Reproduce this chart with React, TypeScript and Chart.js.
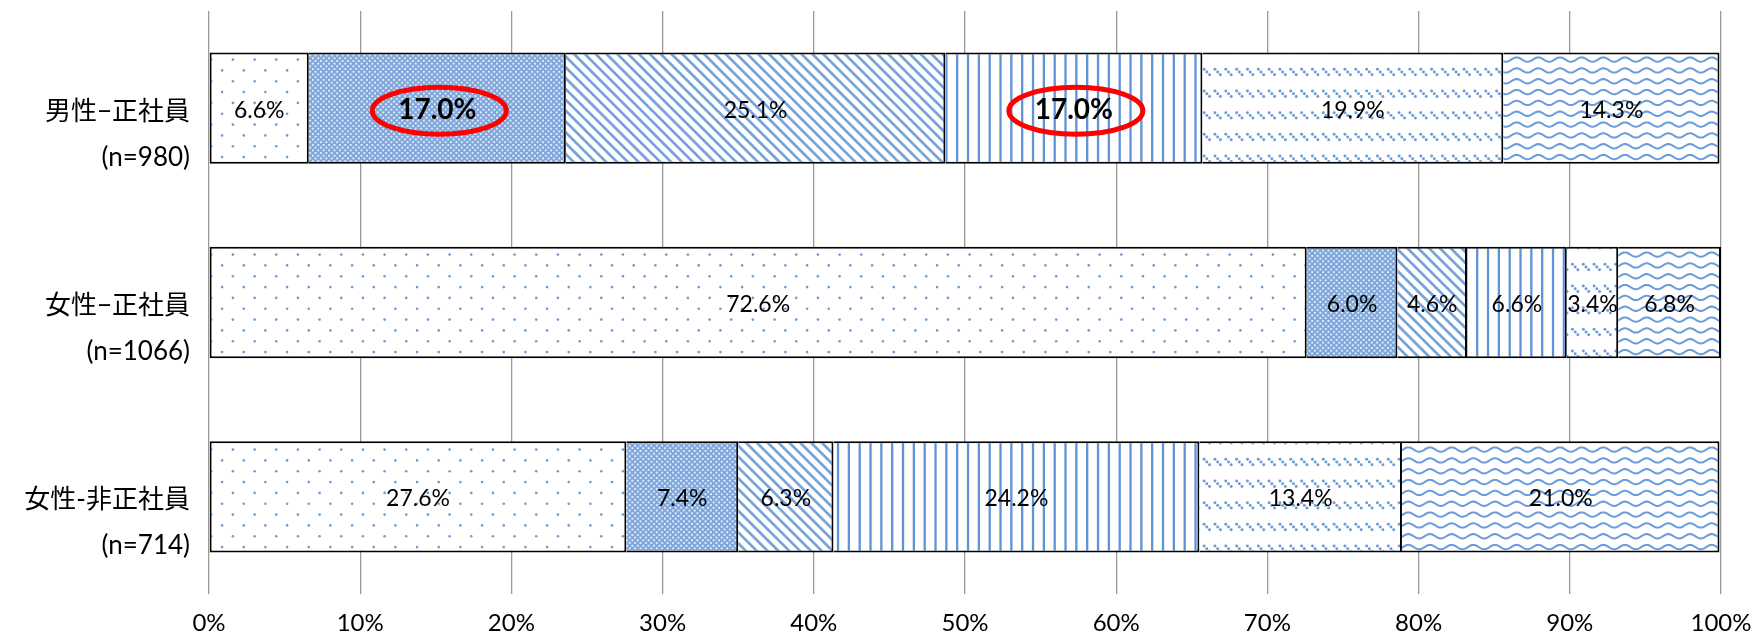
import React, { useEffect, useRef } from 'react';
import { Chart, registerables } from 'chart.js';

Chart.register(...registerables);

// ---- data ----
const categories: string[][] = [
  ['男性−正社員', '(n=980)'],
  ['女性−正社員', '(n=1066)'],
  ['女性-非正社員', '(n=714)'],
];
const seriesA = [6.6, 72.6, 27.6];
const seriesB = [17.0, 6.0, 7.4];
const seriesC = [25.1, 4.6, 6.3];
const seriesD = [17.0, 6.6, 24.2];
const seriesE = [19.9, 3.4, 13.4];
const seriesF = [14.3, 6.8, 21.0];
const xTickValues = [0, 10, 20, 30, 40, 50, 60, 70, 80, 90, 100];
const highlighted = [
  { series: 1, category: 0 },
  { series: 3, category: 0 },
];

// ---- styles ----
const FONT = "Lato, 'Noto Sans CJK JP', sans-serif";
const TILE = 65;
const BASE = 24;
const SCALE = TILE / BASE;
const BLUE = '#5F93D5';

type Draw = (g: CanvasRenderingContext2D) => void;

function makeTile(draw: Draw, bg = '#ffffff'): HTMLCanvasElement {
  const c = document.createElement('canvas');
  c.width = TILE;
  c.height = TILE;
  const g = c.getContext('2d') as CanvasRenderingContext2D;
  g.fillStyle = bg;
  g.fillRect(0, 0, TILE, TILE);
  g.save();
  g.scale(SCALE, SCALE);
  draw(g);
  g.restore();
  return c;
}

const drawDots: Draw = (g) => {
  g.fillStyle = '#6A9CDA';
  for (let r = 0; r < 6; r++) {
    const off = (r % 2) * 4;
    for (let k = 0; k < 3; k++) {
      g.beginPath();
      g.arc(off + k * 8 + 2, r * 4 + 2, 0.48, 0, Math.PI * 2);
      g.fill();
    }
  }
};

const drawChecker: Draw = (g) => {
  g.fillStyle = '#E4ECF8';
  for (let i = 0; i < BASE; i++) {
    for (let j = 0; j < BASE; j++) {
      if ((i + j) % 2 === 0) g.fillRect(i + 0.15, j + 0.15, 0.7, 0.7);
    }
  }
};

const drawDiagonal: Draw = (g) => {
  g.strokeStyle = '#77A3DB';
  g.lineWidth = 1.0;
  for (let c = -BASE - 4; c <= BASE + 4; c += 4) {
    g.beginPath();
    g.moveTo(-4, -4 + c);
    g.lineTo(BASE + 4, BASE + 4 + c);
    g.stroke();
  }
};

const drawVertical: Draw = (g) => {
  g.fillStyle = BLUE;
  for (let x = 1; x < BASE; x += 4) {
    g.fillRect(x, 0, 0.85, BASE);
  }
};

const drawDashes: Draw = (g) => {
  g.fillStyle = '#6A9CDA';
  for (let r = 0; r < 3; r++) {
    const y = r * 8 + 1;
    for (let k = 0; k < 6; k++) {
      const x0 = k * 4;
      for (let d = 0; d < 3; d++) {
        g.beginPath();
        g.arc(x0 + 0.6 + d * 1.0, y + 0.6 + d * 1.0, 0.55, 0, Math.PI * 2);
        g.fill();
      }
    }
  }
};

const drawWave: Draw = (g) => {
  g.strokeStyle = '#6C9CDA';
  g.lineWidth = 0.75;
  g.lineCap = 'round';
  for (let r = -1; r < 7; r++) {
    const yc = r * 4 + 2;
    g.beginPath();
    for (let x = -1; x <= BASE + 1; x += 0.25) {
      const y = yc - 0.8 * Math.cos((2 * Math.PI * x) / 8);
      if (x === -1) g.moveTo(x, y);
      else g.lineTo(x, y);
    }
    g.stroke();
  }
};

const overlayPlugin = {
  id: 'overlay',
  afterDatasetsDraw(chart: any) {
    const ctx: CanvasRenderingContext2D = chart.ctx;
    ctx.save();
    ctx.textAlign = 'center';
    ctx.textBaseline = 'middle';
    ctx.fillStyle = '#000000';
    chart.data.datasets.forEach((ds: any, di: number) => {
      const meta = chart.getDatasetMeta(di);
      meta.data.forEach((bar: any, ci: number) => {
        const v = ds.data[ci] as number;
        const p = bar.getProps(['x', 'base', 'y'], true);
        const isHi = highlighted.some((h) => h.series === di && h.category === ci);
        ctx.font = isHi ? `bold 28px ${FONT}` : `23px ${FONT}`;
        ctx.fillText(v.toFixed(1) + '%', (p.x + p.base) / 2, p.y + 2);
      });
    });
    ctx.strokeStyle = '#FF0000';
    ctx.lineWidth = 5;
    highlighted.forEach((h) => {
      const bar = chart.getDatasetMeta(h.series).data[h.category];
      const p = bar.getProps(['x', 'base', 'y'], true);
      ctx.beginPath();
      ctx.ellipse((p.x + p.base) / 2 + 2, p.y + 2.5, 67, 23.5, 0, 0, Math.PI * 2);
      ctx.stroke();
    });
    ctx.restore();
  },
};

export default function App() {
  const ref = useRef<HTMLCanvasElement | null>(null);

  useEffect(() => {
    const canvas = ref.current;
    if (!canvas) return;
    const ctx = canvas.getContext('2d') as CanvasRenderingContext2D;
    const pat = (d: Draw, bg?: string) => ctx.createPattern(makeTile(d, bg), 'repeat') as CanvasPattern;

    const series = [seriesA, seriesB, seriesC, seriesD, seriesE, seriesF];
    const fills = [
      pat(drawDots),
      pat(drawChecker, '#7FA7DB'),
      pat(drawDiagonal),
      pat(drawVertical),
      pat(drawDashes),
      pat(drawWave),
    ];

    const chart = new Chart(canvas, {
      type: 'bar',
      data: {
        labels: categories,
        datasets: series.map((s, i) => ({
          label: 'S' + (i + 1),
          data: s,
          backgroundColor: fills[i],
          borderColor: '#000000',
          borderWidth: 2,
          borderSkipped: i === 0 ? false : 'start',
          barPercentage: 0.573,
          categoryPercentage: 1,
        })),
      },
      options: {
        indexAxis: 'y',
        responsive: false,
        maintainAspectRatio: false,
        devicePixelRatio: 1,
        animation: false,
        layout: { padding: { left: 0, right: 32, top: 11, bottom: 0 } },
        plugins: {
          legend: { display: false },
          tooltip: { enabled: false },
          title: { display: false },
        },
        scales: {
          x: {
            stacked: true,
            min: 0,
            max: 100,
            afterBuildTicks: (scale: any) => {
              scale.ticks = xTickValues.map((v) => ({ value: v }));
            },
            afterFit: (scale: any) => {
              scale.height = 44;
              scale.paddingLeft = 0;
              scale.paddingRight = 0;
            },
            grid: { color: '#9A9A9A', lineWidth: 1.3, drawTicks: false },
            border: { display: false },
            ticks: {
              padding: 15,
              color: '#000000',
              font: { family: FONT, size: 24 },
              callback: (v: any) => v + '%',
            },
          },
          y: {
            stacked: true,
            afterFit: (scale: any) => {
              scale.width = 209;
              scale.paddingTop = 0;
              scale.paddingBottom = 0;
            },
            grid: { display: false, drawTicks: false },
            border: { display: false },
            ticks: {
              padding: 19,
              labelOffset: 26,
              color: '#000000',
              font: { family: FONT, size: 26, lineHeight: 1.77 },
            },
          },
        },
      },
      plugins: [overlayPlugin],
    } as any);

    return () => chart.destroy();
  }, []);

  return (
    <div style={{ position: 'fixed', left: 0, top: 0, width: 1753, height: 638, background: '#ffffff' }}>
      <canvas ref={ref} width={1753} height={638} style={{ display: 'block' }} />
    </div>
  );
}
